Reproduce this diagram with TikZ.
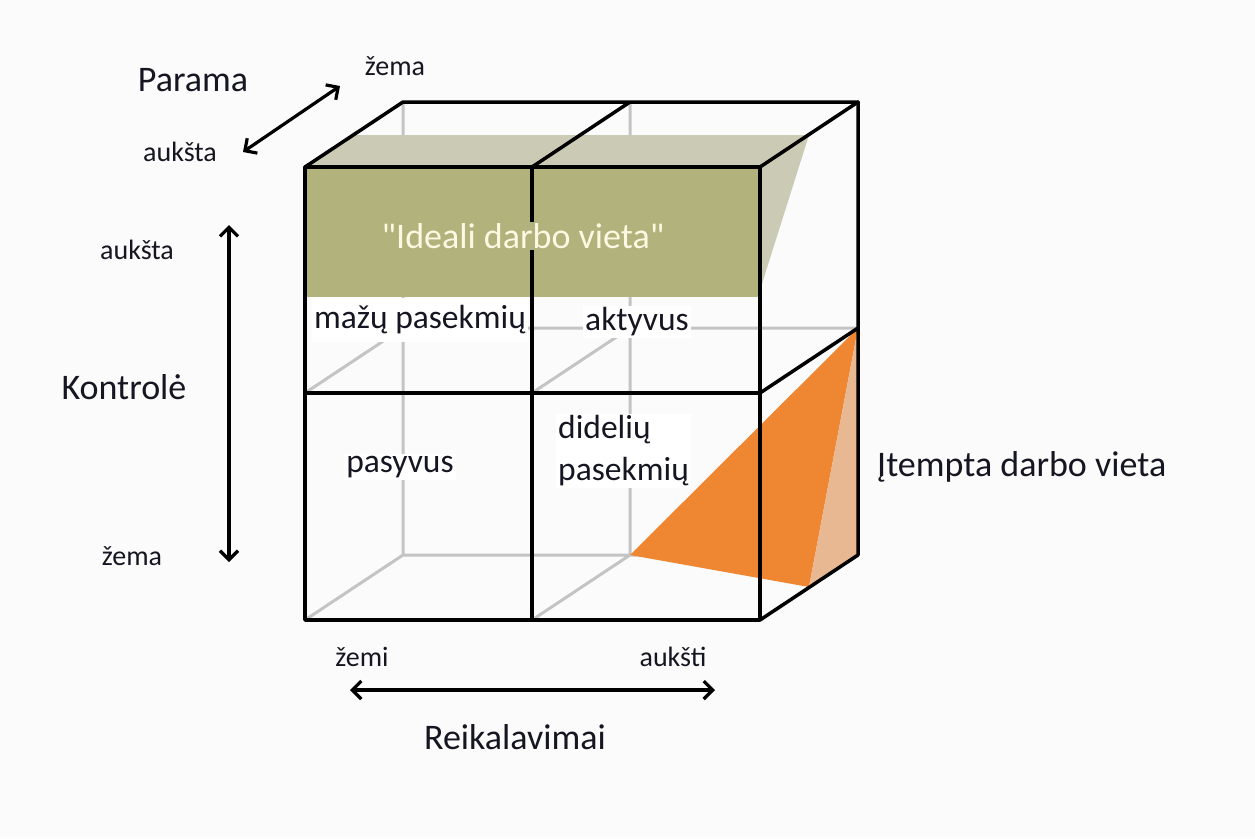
\documentclass[tikz,border=0pt]{standalone}
\usepackage{fontspec}
\setmainfont{Carlito}
\newfontfamily\nolig{Carlito}[Ligatures=TeXOff]
\usetikzlibrary{arrows.meta}
\definecolor{bg}{RGB}{251,251,251}
\definecolor{olive}{RGB}{177,178,124}
\definecolor{olivelt}{RGB}{203,203,181}
\definecolor{orng}{RGB}{239,134,50}
\definecolor{orlt}{RGB}{232,184,147}
\definecolor{hid}{RGB}{196,196,196}
\definecolor{txt}{RGB}{22,22,34}
\definecolor{cream}{RGB}{252,248,226}
\begin{document}
\begin{tikzpicture}[x=1pt,y=-1pt,
  edge/.style={line width=3.5pt,line cap=round,line join=round},
  hidden/.style={hid,line width=3pt},
  axis/.style={line width=3.2pt,{Straight Barb[length=9pt,width=18pt]}-{Straight Barb[length=9pt,width=18pt]}},
  big/.style={font=\fontsize{36}{42}\selectfont,text=txt,inner sep=0pt},
  cell/.style={font=\fontsize{33.5}{42}\selectfont,text=txt,fill=white,inner sep=2pt},
  small/.style={font=\fontsize{28}{32}\selectfont,text=txt,inner sep=0pt}]
\useasboundingbox (0,0) rectangle (1255,838);
\fill[bg] (0,0) rectangle (1255,838);
% front corners
\coordinate (F1) at (305,167); \coordinate (F2) at (532,167); \coordinate (F3) at (760,167);
\coordinate (F4) at (305,393); \coordinate (F5) at (532,393); \coordinate (F6) at (760,393);
\coordinate (F7) at (305,620); \coordinate (F8) at (532,620); \coordinate (F9) at (760,620);
% back corners
\coordinate (B1) at (403,102); \coordinate (B2) at (630,102); \coordinate (B3) at (858,102);
\coordinate (B4) at (403,328); \coordinate (B5) at (630,328); \coordinate (B6) at (858,328);
\coordinate (B7) at (403,555); \coordinate (B8) at (630,555); \coordinate (B9) at (858,555);
% hidden edges
\draw[hidden] (B1) -- (B7) (B2) -- (B8) (B4) -- (B6) (B7) -- (B9)
  (F4) -- (B4) (F5) -- (B5) (F7) -- (B7) (F8) -- (B8);
% green slab
\fill[olivelt] (305,167) -- (354,135) -- (809,135) -- (760,167) -- cycle;
\fill[olivelt] (760,167) -- (809,135) -- (760,290) -- cycle;
\fill[olive] (305,167) rectangle (760,297);
% orange wedge
\coordinate (O1) at (809,587);
\fill[orng] (B6) -- (B8) -- (O1) -- cycle;
\fill[orlt] (B6) -- (B9) -- (O1) -- cycle;
% visible edges
\draw[edge] (F1) -- (F3) -- (F9) -- (F7) -- cycle;
\draw[edge] (F4) -- (F6) (F2) -- (F8);
\draw[edge] (F1) -- (B1) -- (B3) -- (F3) (F2) -- (B2);
\draw[edge] (B3) -- (B9) -- (F9) (F6) -- (B6);
% cube labels
\node[font=\nolig\fontsize{36}{42}\selectfont,text=cream,fill=olive,inner sep=1pt] (ideal) at (523,236) {"Ideali darbo vieta"};
\node[cell,minimum height=44pt] (mazu) at (420,320) {mažų pasekmių};
\node[cell] (akt) at (637,322) {aktyvus};
\node[cell] (pas) at (400,467) {pasyvus};
\node[cell,anchor=west,align=left] (did) at (556,451) {didelių\\pasekmių};
\node[big,anchor=west] (itemp) at (877,467) {Įtempta darbo vieta};
% axis labels
\node[big] (kontr) at (124,387) {Kontrolė};
\node[big] (param) at (193,80) {Parama};
\node[big] (reik) at (515,737) {Reikalavimai};
\node[small] (pz) at (395,66) {žema};
\node[small] (pa) at (180,152) {aukšta};
\node[small] (ka) at (137,250) {aukšta};
\node[small] (kz) at (132,556) {žema};
\node[small] (rz) at (362,657) {žemi};
\node[small] (ra) at (673,657) {aukšti};
% arrows
\coordinate (pA) at (243,152); \coordinate (pB) at (340,86);
\coordinate (kA) at (229,225); \coordinate (kB) at (229,562);
\coordinate (rA) at (350,690); \coordinate (rB) at (715,690);
\draw[axis] (pA) -- (pB);
\draw[axis] (kA) -- (kB);
\draw[axis] (rA) -- (rB);
\end{tikzpicture}
\end{document}
